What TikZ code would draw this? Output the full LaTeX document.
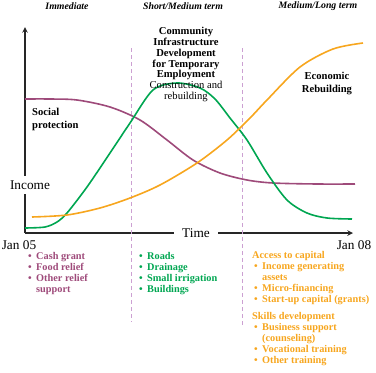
\documentclass[tikz,border=0pt]{standalone}
\usepackage{fontspec}
\setmainfont{Liberation Serif}
\usepackage{tikz}
\usetikzlibrary{arrows, positioning}
\definecolor{morado}{RGB}{158,74,122}
\definecolor{verde}{RGB}{0,166,81}
\definecolor{naranja}{RGB}{247,166,30}
\definecolor{lila}{RGB}{204,160,210}
\newcommand{\Punto}{\makebox[8pt][l]{\textbullet}}
\newcommand{\Sangria}{\hspace*{8pt}}
\tikzstyle{eje} = [line width=1.5pt, draw=black!85, ->, >=stealth]
\tikzstyle{curva} = [line width=1.6pt, smooth]
\tikzstyle{divisor} = [lila, thick, dash pattern=on 4pt off 3pt]
\tikzstyle{etiqueta} = [inner sep=0pt,
                        align=center,
                        font=\bfseries\fontsize{10.6}{10.8}\selectfont]
\tikzstyle{periodo} = [inner sep=0pt,
                       font=\bfseries\itshape\fontsize{9.8}{10}\selectfont]
\tikzstyle{fecha} = [inner sep=0pt,
                     font=\fontsize{13.3}{14}\selectfont]
\tikzstyle{lista} = [inner sep=0pt,
                     align=left,
                     anchor=north west,
                     font=\bfseries\fontsize{10.3}{11}\selectfont]

\begin{document}
\begin{tikzpicture}[x=1pt, y=-1pt]
        \useasboundingbox (0,0) rectangle (376,373);

        % ejes
        \coordinate (Origen) at (25,233);
        \coordinate (TopeY) at (25,27);
        \coordinate (TopeX) at (353,233);
        \draw [eje] (Origen) -- (TopeY);
        \draw [eje] (Origen) -- (TopeX);
        \node (Ingreso) [fecha, fill=white, inner ysep=5pt] at (30,185) {Income};
        \node (Tiempo) [fecha, fill=white, inner xsep=8pt, inner ysep=3pt] at (196,233) {Time};
        \node (Inicio) [fecha] at (19,245) {Jan 05};
        \node (Fin) [fecha] at (354,245) {Jan 08};

        % periodos
        \coordinate (D1a) at (131,48);
        \coordinate (D1b) at (131,322);
        \coordinate (D2a) at (242,48);
        \coordinate (D2b) at (242,326);
        \draw [divisor] (D1a) -- (D1b);
        \draw [divisor] (D2a) -- (D2b);
        \node (Inmediato) [periodo] at (67,6) {Immediate};
        \node (Corto) [periodo] at (183,6) {Short/Medium term};
        \node (Largo) [periodo] at (318,6) {Medium/Long term};

        % curvas
        \draw [curva, morado] plot coordinates {(25,99) (50,99) (77,100) (110,107) (140,120) (167,140)
            (193,160) (220,173) (247,180) (273,183) (317,184) (355,184)};
        \draw [curva, verde] plot coordinates {(25,228) (45,227) (57,222) (67,213) (87,187) (110,153)
            (130,123) (153,90) (177,83) (200,88) (215,99) (230,118) (247,140) (267,173) (287,200)
            (307,213) (327,218) (352,219)};
        \draw [curva, naranja] plot coordinates {(32,217) (67,215) (100,208) (130,198) (160,185)
            (197,163) (227,140) (250,118) (267,100) (300,67) (333,49) (363,43)};

        % etiquetas
        \node (Social) [etiqueta, align=left, anchor=west, font=\bfseries\fontsize{10.6}{13}\selectfont]
            at (32,119.5) {Social\\protection};
        \node (Comunidad) [etiqueta] at (186,64.5) {Community\\Infrastructure\\Development\\for Temporary\\Employment\\
            \mdseries Construction and\\\mdseries rebuilding};
        \node (Economico) [etiqueta, font=\bfseries\fontsize{10.6}{12.7}\selectfont]
            at (327,83.5) {Economic\\Rebuilding};

        % listas
        \node (Alivio) [lista, text=morado] at (28,252.5) {\Punto Cash grant\\\Punto Food relief\\
            \Punto Other relief\\\Sangria support};
        \node (Obras) [lista, text=verde] at (139,252.5) {\Punto Roads\\\Punto Drainage\\
            \Punto Small irrigation\\\Punto Buildings};
        \node (Capital) [lista, text=naranja] at (252,251.5) {Access to capital\\
            \hspace*{2pt}\Punto Income generating\\\hspace*{2pt}\Sangria assets\\
            \hspace*{2pt}\Punto Micro-financing\\\hspace*{2pt}\Punto Start-up capital (grants)};
        \node (Habilidades) [lista, text=naranja, below=7pt of Capital.south west, anchor=north west]
            {Skills development\\
            \hspace*{2pt}\Punto Business support\\\hspace*{2pt}\Sangria (counseling)\\
            \hspace*{2pt}\Punto Vocational training\\\hspace*{2pt}\Punto Other training};
    \end{tikzpicture}
\end{document}
